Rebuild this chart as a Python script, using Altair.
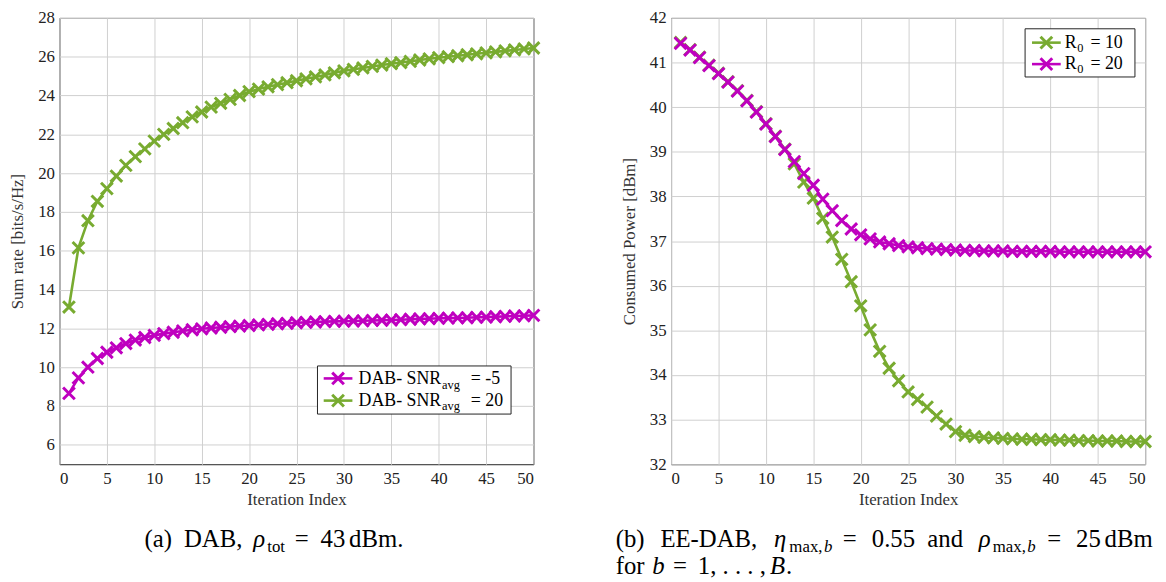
import altair as alt
import pandas as pd

# ---------------- data ----------------
iterations = list(range(1, 51))

rate_snr_m5 = [8.65, 9.45, 10.0, 10.45, 10.77, 11.0, 11.22, 11.4, 11.53, 11.64,
               11.73, 11.8, 11.87, 11.93, 11.98, 12.02, 12.06, 12.09, 12.12, 12.15,
               12.18, 12.21, 12.24, 12.26, 12.29, 12.31, 12.33, 12.35, 12.36, 12.37,
               12.38, 12.39, 12.41, 12.42, 12.43, 12.45, 12.47, 12.49, 12.5, 12.52,
               12.53, 12.54, 12.55, 12.57, 12.58, 12.6, 12.62, 12.64, 12.65, 12.67]

rate_snr_20 = [13.1, 16.15, 17.55, 18.55, 19.2, 19.85, 20.4, 20.85, 21.25, 21.65,
               22.0, 22.3, 22.6, 22.9, 23.15, 23.4, 23.6, 23.8, 24.0, 24.2,
               24.33, 24.45, 24.56, 24.66, 24.76, 24.86, 24.96, 25.06, 25.17, 25.27,
               25.35, 25.42, 25.5, 25.57, 25.64, 25.7, 25.76, 25.83, 25.89, 25.95,
               26.0, 26.05, 26.1, 26.15, 26.2, 26.25, 26.3, 26.35, 26.4, 26.45]

power_r0_10 = [41.45, 41.29, 41.12, 40.94, 40.76, 40.57, 40.37, 40.15, 39.9, 39.63,
               39.35, 39.06, 38.73, 38.32, 37.96, 37.51, 37.09, 36.59, 36.09, 35.55,
               35.01, 34.53, 34.15, 33.87, 33.62, 33.45, 33.28, 33.08, 32.9, 32.73,
               32.65, 32.62, 32.6, 32.59, 32.58, 32.57, 32.56, 32.56, 32.55, 32.55,
               32.54, 32.54, 32.53, 32.53, 32.52, 32.52, 32.52, 32.51, 32.51, 32.51]

power_r0_20 = [41.43, 41.28, 41.11, 40.93, 40.75, 40.56, 40.36, 40.14, 39.89, 39.62,
               39.34, 39.05, 38.78, 38.51, 38.25, 37.94, 37.68, 37.46, 37.27, 37.14,
               37.05, 36.98, 36.94, 36.9, 36.87, 36.85, 36.83, 36.82, 36.81, 36.8,
               36.79, 36.79, 36.78, 36.78, 36.78, 36.77, 36.77, 36.77, 36.77, 36.77,
               36.76, 36.76, 36.76, 36.76, 36.76, 36.76, 36.76, 36.76, 36.76, 36.76]

x_ticks = list(range(0, 51, 5))
left_y_ticks = list(range(6, 29, 2))
right_y_ticks = list(range(32, 43, 1))

GREEN = "#78AB30"
MAGENTA = "#BF00BF"
SERIF = "Liberation Serif"
W, H = 479, 451
XSHAPE = "M-1,-1L1,1M-1,1L1,-1"
ONE = alt.Data(values=[{"k": 1}])
CAP = 25      # caption font size
SUB = 17      # caption subscript size
LEG = 18      # legend font size
LSUB = 12.5   # legend subscript size
TICKFS = 17
TITLEFS = 17
CY1 = 535     # caption line 1 baseline (plot coords)
CY2 = 562     # caption line 2 baseline


def series(df, ycol, color, xscale, yscale, xaxis, yaxis):
    x = alt.X("it:Q", scale=xscale, axis=xaxis)
    y = alt.Y(f"{ycol}:Q", scale=yscale, axis=yaxis)
    line = alt.Chart(df).mark_line(color=color, strokeWidth=2.6).encode(x=x, y=y)
    pts = alt.Chart(df).mark_point(shape=XSHAPE, size=140, filled=False,
                                   color=color, strokeWidth=3, opacity=1).encode(x=x, y=y)
    return [line, pts]


def txt(s, x, y, size=16, style="normal", align="left"):
    return alt.Chart(ONE).mark_text(text=s, font=SERIF, fontSize=size, fontStyle=style,
                                    align=align, baseline="alphabetic", color="black").encode(
        x=alt.value(x), y=alt.value(y))


def box(x1, x2, y1, y2):
    return alt.Chart(ONE).mark_rect(fill="white", stroke="#222222", strokeWidth=1).encode(
        x=alt.value(x1), x2=alt.value(x2), y=alt.value(y1), y2=alt.value(y2))


def legend_symbol(x1, x2, y, color):
    r = alt.Chart(ONE).mark_rule(color=color, strokeWidth=2.6).encode(
        x=alt.value(x1), x2=alt.value(x2), y=alt.value(y))
    p = alt.Chart(ONE).mark_point(shape=XSHAPE, size=140, filled=False, color=color,
                                  strokeWidth=3, opacity=1).encode(
        x=alt.value((x1 + x2) / 2), y=alt.value(y))
    return [r, p]


def axis_common(**kw):
    return alt.Axis(grid=True, ticks=False, domain=False,
                    labelFont=SERIF, titleFont=SERIF, labelFontSize=TICKFS,
                    titleFontSize=TITLEFS, labelColor="#222222", titleColor="#333333",
                    titleFontWeight="normal", gridColor="#cfcfcf", gridWidth=1, **kw)


def xaxis():
    return axis_common(values=x_ticks, title="Iteration Index", labelPadding=6, titlePadding=6)


xscale = alt.Scale(domain=[0, 50], nice=False, zero=False)

# ---------------- left panel ----------------
dfl = pd.DataFrame({"it": iterations, "m5": rate_snr_m5, "p20": rate_snr_20})
yscale_l = alt.Scale(domain=[5, 28], nice=False, zero=False)
yaxis_l = axis_common(values=left_y_ticks, title="Sum rate [bits/s/Hz]",
                      labelPadding=5, titlePadding=11)

left_layers = []
left_layers += series(dfl, "m5", MAGENTA, xscale, yscale_l, xaxis(), yaxis_l)
left_layers += series(dfl, "p20", GREEN, xscale, yscale_l, xaxis(), yaxis_l)
left_layers.append(box(260.7, 456.3, 351.7, 400.3))
left_layers += legend_symbol(267, 296, 364.3, MAGENTA)
left_layers += legend_symbol(267, 296, 386.7, GREEN)
left_layers += [
    txt("DAB- SNR", 385.7, 370, LEG, align="right"),
    txt("avg", 386.5, 374.5, LSUB),
    txt("= -5", 415.7, 370, LEG),
    txt("DAB- SNR", 385.7, 391.7, LEG, align="right"),
    txt("avg", 386.5, 396, LSUB),
    txt("= 20", 415.7, 391.7, LEG),
    # caption (a)
    txt("(a)", 86, CY1, CAP),
    txt("DAB,", 125.8, CY1, CAP),
    txt("ρ", 195.8, CY1, CAP, style="italic"),
    txt("tot", 210, CY1 + 5, SUB),
    txt("=", 237.7, CY1, CAP),
    txt("43", 263.8, CY1, CAP),
    txt("dBm.", 292.6, CY1, CAP),
]
left = alt.layer(*left_layers).properties(width=W, height=H)

# ---------------- right panel ----------------
dfr = pd.DataFrame({"it": iterations, "r10": power_r0_10, "r20": power_r0_20})
yscale_r = alt.Scale(domain=[32, 42], nice=False, zero=False)
yaxis_r = axis_common(values=right_y_ticks, title="Consumed Power [dBm]",
                      labelPadding=5, titlePadding=11)

right_layers = []
right_layers += series(dfr, "r10", GREEN, xscale, yscale_r, xaxis(), yaxis_r)
right_layers += series(dfr, "r20", MAGENTA, xscale, yscale_r, xaxis(), yaxis_r)
right_layers.append(box(357.7, 468.7, 11, 59.7))
right_layers += legend_symbol(364.7, 393.7, 25, GREEN)
right_layers += legend_symbol(364.7, 393.7, 46.7, MAGENTA)
right_layers += [
    txt("R", 409.7, 30, LEG, align="right"),
    txt("0", 410.5, 34, LSUB),
    txt("= 10", 423.7, 30, LEG),
    txt("R", 409.7, 51.7, LEG, align="right"),
    txt("0", 410.5, 55.7, LSUB),
    txt("= 20", 423.7, 51.7, LEG),
    # caption (b), line 1
    txt("(b)", -56, CY1, CAP),
    txt("EE-DAB,", -10.8, CY1, CAP),
    txt("η", 104, CY1, CAP, style="italic"),
    txt("max,", 119.5, CY1 + 5, SUB),
    txt("b", 154.5, CY1 + 5, SUB, style="italic"),
    txt("=", 173.5, CY1, CAP),
    txt("0.55", 202.8, CY1, CAP),
    txt("and", 258.9, CY1, CAP),
    txt("ρ", 310.9, CY1, CAP, style="italic"),
    txt("max,", 325, CY1 + 5, SUB),
    txt("b", 360, CY1 + 5, SUB, style="italic"),
    txt("=", 380, CY1, CAP),
    txt("25", 409.2, CY1, CAP),
    txt("dBm", 438, CY1, CAP),
    # caption (b), line 2
    txt("for", -56, CY2, CAP),
    txt("b", -19, CY2, CAP, style="italic"),
    txt("=", 2, CY2, CAP),
    txt("1, . . . ,", 27, CY2, CAP),
    txt("B", 100, CY2, CAP, style="italic"),
    txt(".", 116, CY2, CAP),
]
right = alt.layer(*right_layers).properties(width=W, height=H)

chart = alt.hconcat(left, right, spacing=69).properties(
    padding={"left": 0, "top": -3, "right": 0, "bottom": 0},
    background="white"
).configure_view(
    stroke="#222222", strokeWidth=1
)

chart.save("out.html", embed_options={"renderer": "svg", "actions": False})
